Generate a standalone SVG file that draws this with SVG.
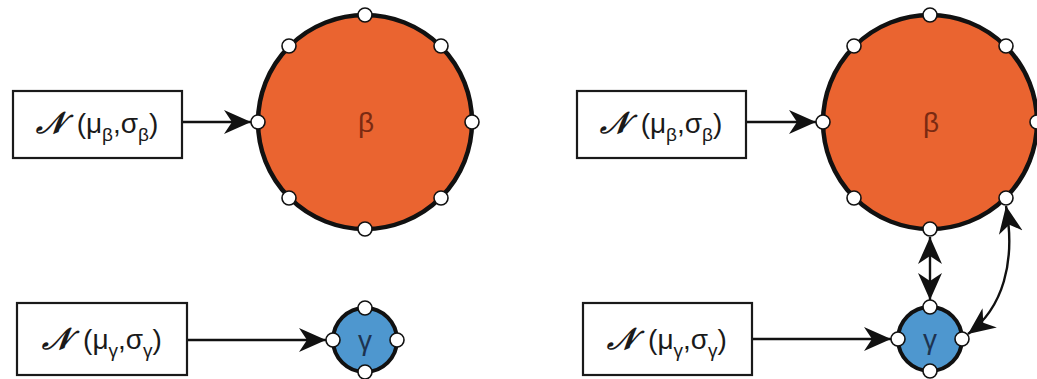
<svg xmlns="http://www.w3.org/2000/svg" width="1037" height="379" viewBox="0 0 1037 379">
<style>
.box{fill:#fff;stroke:#1a1a1a;stroke-width:2.2}
.lbl{font-family:"Liberation Sans",Arial,sans-serif;font-size:28px;fill:#1a1a1a;text-anchor:middle}
.cal{font-family:"Liberation Serif","DejaVu Serif",serif;font-weight:bold;font-style:italic;font-size:30px}
.sub{font-size:19px}
.big{fill:#EA6430;stroke:#111;stroke-width:4.5}
.sm{fill:#4E97CF;stroke:#111;stroke-width:4}
.port{fill:#fff;stroke:#111;stroke-width:1.6}
.conn{fill:none;stroke:#111;stroke-width:2.4}
.blbl{font-family:"Liberation Sans",Arial,sans-serif;font-size:28px;fill:#7a2a12;text-anchor:middle}
.glbl{font-family:"Liberation Sans",Arial,sans-serif;font-size:28px;fill:#1d3350;text-anchor:middle}
</style>
<defs>
<marker id="ah" markerUnits="userSpaceOnUse" markerWidth="28" markerHeight="26" refX="27" refY="12" orient="auto-start-reverse" viewBox="0 0 28 24">
<path d="M0,0 L27,12 L0,24 L8,12 z" fill="#111"/>
</marker>
</defs>
<g id="connectors">
<line class="conn" x1="182" y1="122" x2="251" y2="122" marker-end="url(#ah)"/>
<line class="conn" x1="187" y1="340" x2="326" y2="340" marker-end="url(#ah)"/>
<line class="conn" x1="746" y1="122" x2="816" y2="122" marker-end="url(#ah)"/>
<line class="conn" x1="752" y1="339" x2="891" y2="339" marker-end="url(#ah)"/>
<line class="conn" x1="930" y1="237" x2="930" y2="300" marker-start="url(#ah)" marker-end="url(#ah)"/>
<path class="conn" d="M1006,206 C1016,262 1003,308 968,334" marker-start="url(#ah)" marker-end="url(#ah)"/>
</g>
<g id="box-beta-left">
<rect class="box" x="13" y="91" width="169" height="67"/>
<text class="lbl" x="97" y="133"><tspan class="cal">𝒩</tspan><tspan dx="12">(μ</tspan><tspan class="sub" dy="8">β</tspan><tspan dy="-8">,σ</tspan><tspan class="sub" dy="8">β</tspan><tspan dy="-8">)</tspan></text>
</g>
<g id="box-gamma-left">
<rect class="box" x="17" y="303" width="170" height="72"/>
<text class="lbl" x="102" y="349"><tspan class="cal">𝒩</tspan><tspan dx="12">(μ</tspan><tspan class="sub" dy="8">γ</tspan><tspan dy="-8">,σ</tspan><tspan class="sub" dy="8">γ</tspan><tspan dy="-8">)</tspan></text>
</g>
<g id="box-beta-right">
<rect class="box" x="577" y="91" width="169" height="67"/>
<text class="lbl" x="661" y="133"><tspan class="cal">𝒩</tspan><tspan dx="12">(μ</tspan><tspan class="sub" dy="8">β</tspan><tspan dy="-8">,σ</tspan><tspan class="sub" dy="8">β</tspan><tspan dy="-8">)</tspan></text>
</g>
<g id="box-gamma-right">
<rect class="box" x="583" y="303" width="169" height="72"/>
<text class="lbl" x="667" y="349"><tspan class="cal">𝒩</tspan><tspan dx="12">(μ</tspan><tspan class="sub" dy="8">γ</tspan><tspan dy="-8">,σ</tspan><tspan class="sub" dy="8">γ</tspan><tspan dy="-8">)</tspan></text>
</g>
<g id="beta-left">
<circle class="big" cx="365" cy="122" r="107"/>
<text class="blbl" x="366" y="132">β</text>
<circle class="port" cx="365" cy="15" r="7"/>
<circle class="port" cx="441" cy="46" r="7"/>
<circle class="port" cx="472" cy="122" r="7"/>
<circle class="port" cx="441" cy="198" r="7"/>
<circle class="port" cx="365" cy="229" r="7"/>
<circle class="port" cx="289" cy="198" r="7"/>
<circle class="port" cx="258" cy="122" r="7"/>
<circle class="port" cx="289" cy="46" r="7"/>
</g>
<g id="gamma-left">
<circle class="sm" cx="365" cy="340" r="32"/>
<text class="glbl" x="365" y="350">γ</text>
<circle class="port" cx="365" cy="308" r="7"/>
<circle class="port" cx="397" cy="340" r="7"/>
<circle class="port" cx="365" cy="372" r="7"/>
<circle class="port" cx="333" cy="340" r="7"/>
</g>
<g id="beta-right">
<circle class="big" cx="930" cy="122" r="107"/>
<text class="blbl" x="931" y="132">β</text>
<circle class="port" cx="930" cy="15" r="7"/>
<circle class="port" cx="1006" cy="46" r="7"/>
<circle class="port" cx="1037" cy="122" r="7"/>
<circle class="port" cx="1006" cy="198" r="7"/>
<circle class="port" cx="930" cy="229" r="7"/>
<circle class="port" cx="854" cy="198" r="7"/>
<circle class="port" cx="823" cy="122" r="7"/>
<circle class="port" cx="854" cy="46" r="7"/>
</g>
<g id="gamma-right">
<circle class="sm" cx="930" cy="339" r="32"/>
<text class="glbl" x="930" y="349">γ</text>
<circle class="port" cx="930" cy="307" r="7"/>
<circle class="port" cx="962" cy="339" r="7"/>
<circle class="port" cx="930" cy="371" r="7"/>
<circle class="port" cx="898" cy="339" r="7"/>
</g>
</svg>
